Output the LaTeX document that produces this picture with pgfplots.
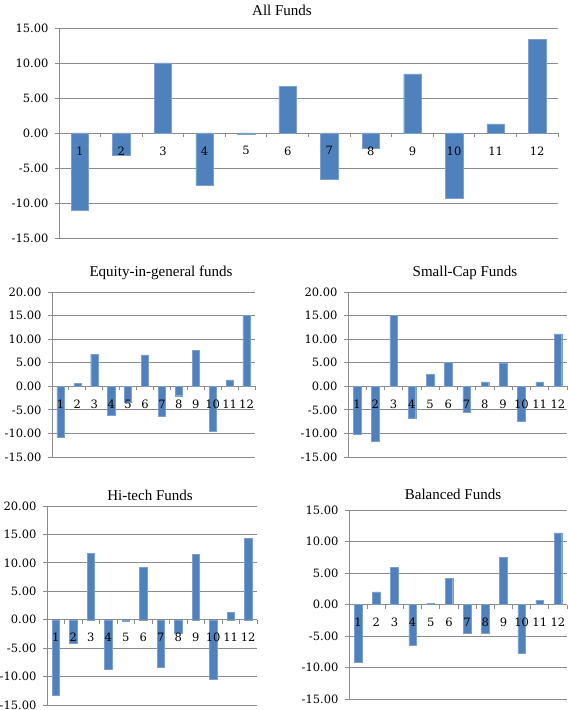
\documentclass[border=0pt]{standalone}
\usepackage{pgfplots}
\pgfplotsset{compat=1.18}
\usepackage{fontspec}
\setmainfont{Liberation Serif}
\newfontfamily\tickfont{DejaVu Serif}
\definecolor{barblue}{RGB}{79,129,189}
\definecolor{gridgray}{RGB}{140,140,140}
\pgfplotsset{
  fundstyle/.style={
    scale only axis,
    anchor=south west,
    axis x line=middle, axis y line=left,
    hide obscured x ticks=false,
    hide obscured y ticks=false,
    axis line style={-, draw=gridgray, line width=0.9pt},
    xmin=0.5, xmax=12.5,
    xtick={0.5,1.5,...,12.5},
    x tick label as interval,
    xticklabels={1,2,3,4,5,6,7,8,9,10,11,12},
    ymajorgrids,
    grid style={draw=gridgray, line width=0.9pt},
    ytick distance=5,
    tick align=outside,
    major tick length=4pt,
    tick style={draw=gridgray, line width=0.9pt},
    yticklabel={\pgfmathprintnumber[fixed, fixed zerofill, precision=2, assume math mode=true]{\tick}},
    tick label style={font=\tickfont\fontsize{11.5}{12}\selectfont, text=black},
    yticklabel style={xshift=-3pt},
    xticklabel style={yshift=-6pt},
    ybar, bar width=0.42,
  },
  mainpanel/.style={fundstyle, xticklabel style={opacity=0}},
  labelpanel/.style={fundstyle, axis line style={draw=none}, ymajorgrids=false,
    tick style={draw=none}, ytick=\empty},
  barstyle/.style={fill=barblue, draw=barblue!75!white, line width=0.4pt},
}
\newcommand{\fundpanel}[6]{%
\begin{axis}[mainpanel, at={#1}, width=#2, height=#3, ymin=#4, ymax=#5]
\addplot[barstyle] coordinates {#6};
\end{axis}
\begin{axis}[labelpanel, at={#1}, width=#2, height=#3, ymin=#4, ymax=#5]
\end{axis}}
\begin{document}
\begin{tikzpicture}

% All Funds
\fundpanel{(59pt,472pt)}{499pt}{210pt}{-15}{15}{(1,-11.0) (2,-3.24) (3,10.0) (4,-7.4) (5,-0.24) (6,6.67) (7,-6.57) (8,-2.24) (9,8.43) (10,-9.29) (11,1.29) (12,13.33)}
\node[font=\fontsize{15}{16}\selectfont] at (282pt,700pt) {All Funds};

% Equity-in-general funds
\fundpanel{(52pt,253pt)}{203pt}{165pt}{-15}{20}{(1,-10.9) (2,0.57) (3,6.8) (4,-6.2) (5,-3.3) (6,6.67) (7,-6.45) (8,-2.0) (9,7.66) (10,-9.5) (11,1.35) (12,15.0)}
\node[font=\fontsize{15}{16}\selectfont] at (161pt,437pt) {Equity-in-general funds};

% Small-Cap Funds
\fundpanel{(348pt,253pt)}{219pt}{165pt}{-15}{20}{(1,-10.07) (2,-11.6) (3,15.1) (4,-6.8) (5,2.55) (6,5.1) (7,-5.5) (8,0.92) (9,4.96) (10,-7.45) (11,0.92) (12,11.1)}
\node[font=\fontsize{15}{16}\selectfont] at (465pt,437pt) {Small-Cap Funds};

% Hi-tech Funds
\fundpanel{(47pt,5pt)}{210pt}{199pt}{-15}{20}{(1,-13.25) (2,-4.16) (3,11.67) (4,-8.74) (5,-0.18) (6,9.15) (7,-8.39) (8,-2.4) (9,11.5) (10,-10.5) (11,1.29) (12,14.3)}
\node[font=\fontsize{15}{16}\selectfont] at (150pt,215pt) {Hi-tech Funds};

% Balanced Funds
\fundpanel{(349pt,11pt)}{218pt}{189pt}{-15}{15}{(1,-9.13) (2,2.02) (3,5.95) (4,-6.43) (5,0.21) (6,4.14) (7,-4.51) (8,-4.51) (9,7.49) (10,-7.7) (11,0.69) (12,11.36)}
\node[font=\fontsize{15}{16}\selectfont] at (453pt,216pt) {Balanced Funds};

\pgfresetboundingbox
\useasboundingbox (0pt,0pt) rectangle (568pt,710pt);
\end{tikzpicture}
\end{document}
